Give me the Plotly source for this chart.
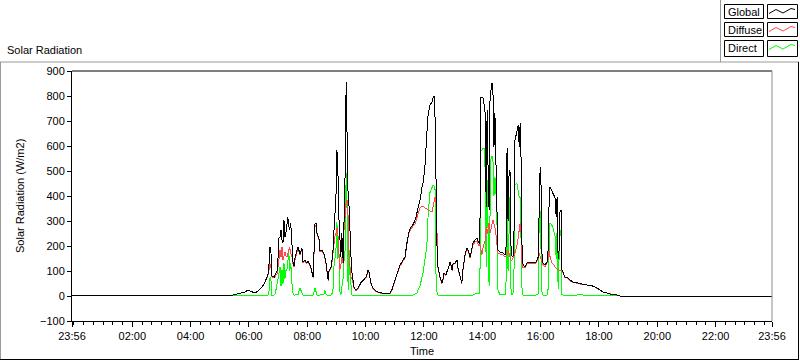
import plotly.graph_objects as go

# time in minutes after midnight (-4 = 23:56 of previous day)
time_min = [
    -4, 310, 317, 321, 327, 337, 348, 352, 358, 362,
    366, 372, 379, 387, 393, 399, 401, 403, 405, 407,
    412, 414, 418, 420, 422, 424, 426, 428, 430, 432,
    434, 436, 438, 440, 442, 444, 446, 449, 451, 453,
    455, 459, 461, 465, 469, 471, 475, 479, 481, 486,
    490, 492, 496, 498, 500, 504, 506, 510, 514, 516,
    518, 521, 523, 525, 529, 531, 533, 535, 537, 539,
    541, 543, 545, 547, 549, 551, 554, 556, 558, 560,
    562, 564, 566, 568, 570, 572, 574, 576, 580, 584,
    590, 595, 601, 605, 607, 611, 615, 619, 625, 634,
    650, 654, 658, 665, 671, 675, 681, 685, 689, 693,
    697, 702, 706, 708, 712, 716, 718, 722, 726, 728,
    732, 737, 739, 741, 743, 745, 747, 749, 753, 757,
    759, 761, 765, 770, 774, 778, 780, 784, 788, 790,
    794, 798, 800, 805, 809, 811, 815, 819, 821, 825,
    829, 833, 835, 837, 839, 842, 844, 846, 848, 850,
    852, 854, 856, 858, 860, 862, 864, 866, 868, 870,
    872, 876, 883, 887, 889, 891, 893, 895, 897, 899,
    901, 903, 905, 907, 909, 911, 914, 916, 918, 920,
    922, 924, 928, 932, 938, 944, 951, 955, 957, 959,
    961, 963, 965, 969, 973, 975, 977, 979, 983, 985,
    990, 992, 994, 996, 998, 1000, 1002, 1004, 1006, 1010,
    1014, 1020, 1027, 1035, 1041, 1047, 1055, 1062, 1068, 1076,
    1082, 1088, 1097, 1103, 1117, 1123, 1436,
]

global_rad = [
    0, 0, 0, 2, 4, 8, 12, 16, 24, 20,
    16, 12, 20, 36, 56, 84, 116, 196, 192, 80,
    76, 84, 100, 156, 236, 236, 264, 224, 212, 304,
    236, 252, 276, 316, 280, 264, 292, 176, 124, 120,
    156, 184, 196, 168, 192, 136, 144, 132, 140, 124,
    92, 76, 292, 292, 252, 232, 184, 184, 172, 156,
    140, 92, 64, 104, 116, 144, 184, 264, 344, 396,
    584, 504, 316, 212, 156, 250, 132, 344, 504, 856,
    644, 396, 356, 224, 156, 92, 52, 36, 24, 30,
    52, 64, 76, 104, 96, 52, 32, 24, 16, 12,
    12, 24, 52, 92, 124, 136, 156, 212, 256, 276,
    284, 304, 332, 356, 384, 436, 450, 516, 636, 716,
    764, 776, 796, 800, 704, 372, 184, 116, 76, 52,
    64, 92, 84, 112, 136, 104, 132, 132, 144, 112,
    84, 52, 104, 172, 192, 184, 156, 196, 212, 224,
    232, 212, 212, 796, 796, 792, 760, 732, 356, 744,
    500, 344, 796, 840, 852, 812, 596, 732, 504, 356,
    184, 176, 172, 164, 200, 592, 300, 480, 504, 200,
    160, 156, 200, 620, 636, 652, 684, 596, 692, 532,
    156, 124, 116, 132, 136, 132, 136, 156, 400, 516,
    436, 150, 132, 124, 136, 156, 344, 436, 424, 412,
    392, 316, 396, 150, 184, 344, 344, 104, 96, 76,
    76, 64, 56, 52, 48, 48, 44, 44, 40, 32,
    24, 16, 12, 8, 4, 0, 0,
]

diffuse_rad = [
    0, 0, 0, 2, 4, 8, 12, 16, 24, 20,
    16, 12, 20, 36, 56, 82, 100, 130, 120, 76,
    72, 78, 90, 120, 150, 184, 156, 196, 144, 170,
    176, 160, 156, 170, 190, 196, 170, 156, 120, 118,
    150, 180, 190, 164, 188, 134, 140, 130, 136, 120,
    90, 74, 280, 285, 248, 228, 180, 180, 168, 150,
    136, 90, 62, 100, 112, 140, 176, 224, 240, 252,
    272, 250, 144, 104, 120, 156, 130, 300, 316, 384,
    384, 316, 150, 100, 76, 70, 50, 34, 22, 28,
    50, 62, 74, 100, 94, 50, 30, 22, 14, 10,
    10, 22, 50, 90, 120, 132, 152, 206, 250, 268,
    276, 290, 316, 332, 352, 360, 360, 352, 350, 345,
    340, 340, 356, 380, 396, 372, 180, 112, 74, 50,
    62, 90, 82, 110, 132, 102, 128, 130, 140, 110,
    80, 50, 100, 168, 188, 180, 152, 190, 206, 215,
    220, 200, 206, 190, 164, 196, 210, 224, 276, 250,
    270, 292, 252, 270, 276, 304, 290, 276, 250, 196,
    172, 168, 164, 156, 160, 184, 180, 170, 150, 144,
    144, 150, 160, 172, 184, 196, 236, 260, 292, 250,
    116, 116, 114, 130, 132, 130, 132, 150, 172, 160,
    150, 140, 126, 116, 130, 144, 184, 160, 132, 130,
    112, 110, 108, 104, 104, 104, 102, 100, 94, 74,
    74, 62, 54, 50, 46, 46, 44, 44, 40, 32,
    24, 16, 12, 8, 4, 0, 0,
]

direct_rad = [
    0, 0, 0, 0, 2, 2, 2, 2, 2, 2,
    2, 4, 4, 4, 4, 4, 10, 70, 76, 4,
    4, 8, 50, 76, 90, 116, 40, 104, 50, 132,
    70, 104, 100, 156, 176, 100, 132, 36, 6, 4,
    4, 8, 6, 32, 8, 4, 4, 4, 4, 4,
    4, 4, 32, 20, 4, 4, 4, 8, 4, 24,
    8, 4, 4, 4, 4, 10, 30, 120, 144, 184,
    296, 150, 180, 20, 4, 40, 76, 156, 184, 492,
    332, 24, 184, 80, 24, 4, 4, 4, 4, 4,
    4, 4, 4, 4, 4, 4, 4, 4, 4, 4,
    4, 4, 4, 4, 4, 4, 4, 4, 4, 4,
    4, 8, 12, 24, 40, 76, 90, 144, 200, 304,
    412, 436, 444, 440, 424, 52, 12, 4, 4, 4,
    4, 4, 4, 4, 4, 4, 4, 4, 4, 4,
    4, 4, 4, 4, 4, 4, 4, 4, 4, 8,
    8, 8, 10, 584, 584, 592, 592, 500, 116, 464,
    300, 40, 332, 552, 560, 544, 400, 476, 420, 332,
    24, 8, 8, 8, 60, 412, 100, 300, 396, 30,
    8, 8, 50, 444, 450, 452, 420, 396, 396, 250,
    8, 4, 4, 4, 4, 4, 4, 8, 292, 340,
    200, 8, 4, 4, 4, 10, 156, 292, 284, 276,
    236, 150, 264, 30, 156, 264, 240, 6, 4, 4,
    4, 4, 4, 4, 8, 4, 4, 4, 4, 4,
    4, 4, 2, 2, 2, 0, 0,
]

series_names = ["Global", "Diffuse", "Direct"]
series_colors = ["#000000", "#ff4848", "#00ff00"]

x_tick_vals = [-4, 120, 240, 360, 480, 600, 720, 840, 960, 1080, 1200, 1320, 1436]
x_tick_text = ["23:56", "02:00", "04:00", "06:00", "08:00", "10:00", "12:00",
               "14:00", "16:00", "18:00", "20:00", "22:00", "23:56"]
y_tick_vals = [-100, 0, 100, 200, 300, 400, 500, 600, 700, 800, 900]

FONT = "Liberation Sans, Arial, sans-serif"

# pixel layout helpers (plot area 72..772 x, 71..321 y)
L, R, T, B = 72, 772, 71, 321
def px(x):
    return (x - L) / (R - L)
def py(y):
    return (B - y) / (B - T)

fig = go.Figure()
for name, vals, col in [("Direct", direct_rad, series_colors[2]),
                        ("Diffuse", diffuse_rad, series_colors[1]),
                        ("Global", global_rad, series_colors[0])]:
    fig.add_trace(go.Scatter(x=time_min, y=vals, mode="lines", name=name,
                             line=dict(color=col, width=1), hoverinfo="skip",
                             showlegend=False))

shapes = []
# plot frame: top black, right gray
shapes.append(dict(type="line", xref="paper", yref="paper", x0=0, x1=1, y0=1, y1=1,
                   line=dict(color="black", width=1)))
shapes.append(dict(type="line", xref="paper", yref="paper", x0=1, x1=1, y0=0, y1=1,
                   line=dict(color="#8c8c8c", width=1)))
# outer panel
shapes.append(dict(type="line", xref="paper", yref="paper", x0=px(0), x1=px(799), y0=py(62), y1=py(62),
                   line=dict(color="#9a9a9a", width=1)))
shapes.append(dict(type="line", xref="paper", yref="paper", x0=px(0.5), x1=px(0.5), y0=py(62), y1=py(360),
                   line=dict(color="#9a9a9a", width=1)))
shapes.append(dict(type="line", xref="paper", yref="paper", x0=px(0), x1=px(799), y0=py(359.5), y1=py(359.5),
                   line=dict(color="black", width=1)))
shapes.append(dict(type="line", xref="paper", yref="paper", x0=px(798.5), x1=px(798.5), y0=py(62), y1=py(360),
                   line=dict(color="black", width=1)))
# legend panel left edge
shapes.append(dict(type="line", xref="paper", yref="paper", x0=px(720.5), x1=px(720.5), y0=py(0), y1=py(62),
                   line=dict(color="#9a9a9a", width=1)))

annotations = []
legend_tops = [4.5, 22.5, 40.5]
legend_heights = [14, 14, 16]
for name, col, top, hgt in zip(series_names, series_colors, legend_tops, legend_heights):
    bot = top + hgt
    shapes.append(dict(type="rect", xref="paper", yref="paper", x0=px(724.5), x1=px(763.5),
                       y0=py(bot), y1=py(top), line=dict(color="black", width=1), fillcolor="white"))
    shapes.append(dict(type="rect", xref="paper", yref="paper", x0=px(767.5), x1=px(797.5),
                       y0=py(bot), y1=py(top), line=dict(color="black", width=1), fillcolor="white"))
    zig = [(769, 9), (776, 5), (783, 8.5), (791, 4), (795, 5)]
    path = "M " + " L ".join(f"{px(a)},{py(top + b)}" for a, b in zig)
    shapes.append(dict(type="path", xref="paper", yref="paper", path=path,
                       line=dict(color=col, width=1)))
    annotations.append(dict(x=px(726), y=py(top + hgt / 2), xref="paper", yref="paper",
                            text=name, showarrow=False, xanchor="left", yanchor="middle",
                            font=dict(family=FONT, size=11, color="black")))

annotations.append(dict(x=px(5), y=py(50), xref="paper", yref="paper", text="Solar Radiation",
                        showarrow=False, xanchor="left", yanchor="middle",
                        font=dict(family=FONT, size=11, color="black")))
annotations.append(dict(x=px(20), y=0.5, xref="paper", yref="paper", text="Solar Radiation (W/m2)",
                        showarrow=False, textangle=-90, xanchor="center", yanchor="middle",
                        font=dict(family=FONT, size=11, color="black")))
annotations.append(dict(x=0.5, y=py(351), xref="paper", yref="paper", text="Time",
                        showarrow=False, xanchor="center", yanchor="middle",
                        font=dict(family=FONT, size=11, color="black")))

fig.update_layout(
    width=800, height=361, autosize=False,
    margin=dict(l=72, r=28, t=71, b=40, pad=0),
    paper_bgcolor="white", plot_bgcolor="white",
    font=dict(family=FONT, size=11, color="black"),
    shapes=shapes, annotations=annotations, showlegend=False,
    xaxis=dict(range=[-4, 1436], tickmode="array", tickvals=x_tick_vals, ticktext=x_tick_text,
               showgrid=False, zeroline=False, showline=True, linecolor="black", linewidth=1,
               ticks="outside", ticklen=5, tickcolor="black", tickwidth=1,
               tickfont=dict(family=FONT, size=11, color="black"),
               minor=dict(tickmode="linear", tick0=0, dtick=20, ticks="outside", ticklen=3,
                          tickcolor="black", showgrid=False)),
    yaxis=dict(range=[-100, 900], tickmode="array", tickvals=y_tick_vals,
               showgrid=False, zeroline=False, showline=True, linecolor="black", linewidth=1,
               ticks="outside", ticklen=4, tickcolor="black", tickwidth=1,
               tickfont=dict(family=FONT, size=11, color="black")),
)

post = (
    "document.body.style.margin='0';document.body.style.overflow='hidden';"
    "document.querySelectorAll('.scatterlayer path.js-line').forEach(function(p){"
    "p.setAttribute('shape-rendering','crispEdges');});"
)
fig.write_html("out.html", config=dict(displayModeBar=False), post_script=post)
